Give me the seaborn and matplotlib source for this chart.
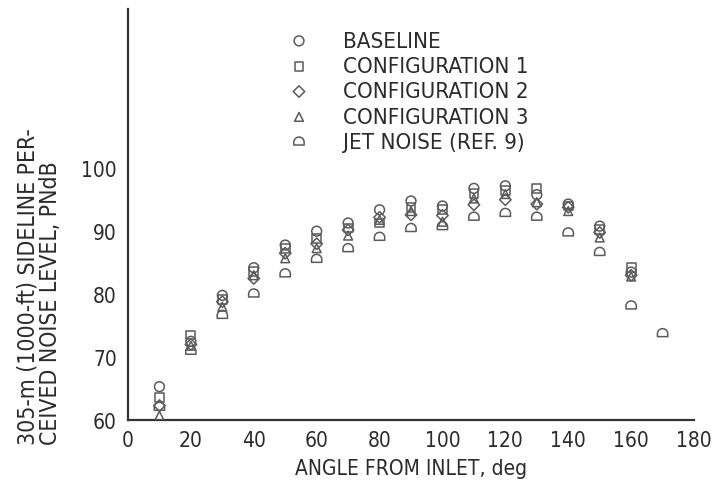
import numpy as np
import pandas as pd
import matplotlib
matplotlib.use("Agg")
import matplotlib.pyplot as plt
from matplotlib.path import Path
import seaborn as sns

# Angle from inlet (deg) and sideline perceived noise level (PNdB)
angles = [10, 20, 30, 40, 50, 60, 70, 80, 90, 100, 110, 120, 130, 140, 150, 160]
jet_angles = [10, 20, 30, 40, 50, 60, 70, 80, 90, 100, 110, 120, 130, 140, 150, 160, 170]

baseline = [65.3, 72.5, 79.8, 84.2, 87.8, 90.0, 91.3, 93.4, 94.8, 94.0, 96.8, 97.2, 95.8, 94.3, 90.8, 83.5]
config1 = [63.6, 73.5, 79.2, 83.6, 87.2, 88.8, 90.5, 91.3, 93.8, 93.5, 96.0, 96.5, 96.8, 94.0, 90.3, 84.2]
config2 = [62.3, 72.0, 78.8, 82.5, 86.5, 88.0, 90.2, 92.2, 92.6, 92.5, 94.2, 95.0, 94.3, 93.8, 89.8, 83.0]
config3 = [60.7, 71.8, 78.0, 83.0, 85.7, 87.3, 89.3, 91.8, 93.2, 91.5, 95.2, 95.9, 94.6, 93.2, 89.0, 82.8]
jet_noise = [62.0, 70.9, 76.6, 80.0, 83.2, 85.5, 87.2, 89.0, 90.4, 90.7, 92.2, 92.8, 92.2, 89.7, 86.6, 78.1, 73.7]

series_labels = ["BASELINE", "CONFIGURATION 1", "CONFIGURATION 2",
                 "CONFIGURATION 3", "JET NOISE (REF. 9)"]

x_ticks = [0, 20, 40, 60, 80, 100, 120, 140, 160, 180]
y_ticks = [60, 70, 80, 90, 100]


def dome_marker():
    """Half-disc top with a flat base (open 'D' turned on its side)."""
    arc = Path.arc(0, 180)
    verts = list(arc.vertices)
    codes = list(arc.codes)
    verts += [(-1.0, -0.55), (1.0, -0.55), (1.0, 0.0)]
    codes += [Path.LINETO, Path.LINETO, Path.LINETO]
    return Path(verts, codes)


sns.set_theme(style="white")
plt.rcParams["font.family"] = ["DejaVu Sans"]
plt.rcParams["font.stretch"] = "condensed"
text_color = "#2b2b2b"
mark_color = "#5a5a5a"

fig = plt.figure(figsize=(7.13, 4.89), dpi=100)
ax = fig.add_axes([0.1795, 0.139, 0.9734 - 0.1795, 0.9796 - 0.139])

frames = [
    (series_labels[0], angles, baseline, "o"),
    (series_labels[1], angles, config1, "s"),
    (series_labels[2], angles, config2, "D"),
    (series_labels[3], angles, config3, "^"),
    (series_labels[4], jet_angles, jet_noise, dome_marker()),
]
sizes = {"o": 50, "s": 40, "D": 34, "^": 40}

for label, xs, ys, mk in frames:
    df = pd.DataFrame({"angle": xs, "pndb": ys})
    s = sizes.get(mk, 55) if isinstance(mk, str) else 55
    sns.scatterplot(data=df, x="angle", y="pndb", marker=mk, s=s,
                    facecolor="none", edgecolor=mark_color, linewidth=1.1,
                    color=mark_color, label=label, ax=ax, legend=False, zorder=3)

ax.set_xlim(0, 180)
ax.set_ylim(60, 125.3)
ax.set_xticks(x_ticks)
ax.set_yticks(y_ticks)
ax.set_xticklabels([str(v) for v in x_ticks])
ax.set_yticklabels([str(v) for v in y_ticks])

for side in ["top", "right"]:
    ax.spines[side].set_visible(False)
for side in ["left", "bottom"]:
    ax.spines[side].set_color("#333333")
    ax.spines[side].set_linewidth(1.6)

ax.tick_params(axis="both", direction="in", length=11, width=1.5,
               colors="#333333", labelcolor=text_color, labelsize=15)
ax.tick_params(axis="x", pad=7)
ax.tick_params(axis="y", pad=8)

ax.set_xlabel("ANGLE FROM INLET, deg", fontsize=15, color=text_color, labelpad=6)
ax.set_ylabel("")
fig.text(0.055, 0.09, "305-m (1000-ft) SIDELINE PER-\nCEIVED NOISE LEVEL, PNdB",
         rotation=90, ha="center", va="bottom", multialignment="left",
         fontsize=16.5, color=text_color, linespacing=1.0)

handles, labels = ax.get_legend_handles_labels()
leg = ax.legend(handles, labels, loc="upper left", bbox_to_anchor=(0.255, 0.985),
                frameon=False, fontsize=16, handletextpad=1.5, labelspacing=0.24,
                borderaxespad=0.3, markerscale=1.0, handlelength=1.0)
for t in leg.get_texts():
    t.set_color(text_color)

fig.savefig("out.png", dpi=100, facecolor="white")
